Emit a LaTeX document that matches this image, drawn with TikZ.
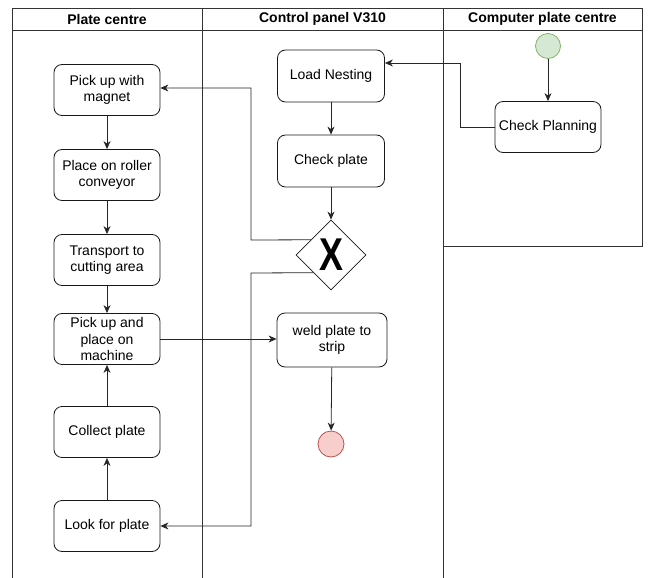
\documentclass[tikz,border=0pt]{standalone}
\usepackage{fontspec}
\setmainfont{Liberation Sans}
\usetikzlibrary{arrows.meta,shapes.geometric,calc}
\definecolor{startfill}{HTML}{D5E8D4}
\definecolor{startline}{HTML}{82B366}
\definecolor{stopfill}{HTML}{F8CECC}
\definecolor{stopline}{HTML}{B85450}

\begin{document}
\begin{tikzpicture}[x=1pt,y=-1pt,
  lane/.style={draw=black!80, line width=0.8pt},
  act/.style={draw=black!90, line width=0.8pt, rounded corners=8pt,
    minimum width=106pt, minimum height=51pt, align=center,
    font=\fontsize{14}{16.5}\selectfont, inner sep=2pt},
  flow/.style={draw=black!85, line width=0.8pt,
    -{Stealth[length=8pt,width=7pt,inset=2.5pt]}},
  hdr/.style={font=\bfseries\fontsize{14}{17}\selectfont}
]
\useasboundingbox (0,0) rectangle (648,578);

% swimlane frame
\draw[lane] (12,578) -- (12,8) -- (642,8) -- (642,246) -- (443,246);
\draw[lane] (12,30) -- (642,30);
\draw[lane] (202,8) -- (202,578);
\draw[lane] (443,8) -- (443,578);

% lane titles
\node[hdr] (h1) at (107,19) {Plate centre};
\node[hdr] (h2) at (322.5,19) {Control panel V310};
\node[hdr] (h3) at (542.5,19) {Computer plate centre};

% plate centre activities
\node[act] (mag) at (107,90) {Pick up with\\magnet};
\node[act] (roller) at (107,175) {Place on roller\\conveyor};
\node[act] (transport) at (107,260) {Transport to\\cutting area};
\node[act] (place) at (107,339) {Pick up and\\place on\\machine};
\node[act] (collect) at (107,432) {Collect plate};
\node[act] (look) at (107,526) {Look for plate};

% control panel activities
\node[act, minimum width=107pt, minimum height=52pt] (load) at (331,76) {Load Nesting};
\node[act, minimum width=107pt, minimum height=52pt] (check) at (331,161) {Check plate};
\node[diamond, draw=black!90, line width=0.8pt, minimum width=70pt,
  minimum height=70pt, inner sep=0pt,
  font=\bfseries\fontsize{46}{46}\selectfont] (dia) at (331,255) {\scalebox{0.78}[1]{X}};
\node[act, minimum width=110pt, minimum height=54pt] (weld) at (332,340) {weld plate to\\strip};
\node[circle, draw=stopline, fill=stopfill, line width=0.8pt,
  minimum size=26pt, inner sep=0pt] (stop) at (331,444) {};

% computer plate centre
\node[circle, draw=startline, fill=startfill, line width=0.8pt,
  minimum size=25pt, inner sep=0pt] (start) at (548,46) {};
\node[act] (plan) at (548,127) {Check Planning};

% connectors
\draw[flow] (start) -- (plan);
\draw[flow] (plan.west) -- ++(-34,0) |- ([yshift=13pt]load.east);
\draw[flow] (load) -- (check);
\draw[flow] (check) -- (dia);
\coordinate (dup) at ($(dia.west)!0.43!(dia.north)$);
\coordinate (ddn) at ($(dia.west)!0.5!(dia.south)$);
\draw[flow] (dup) -- (251,240) |- ([yshift=2pt]mag.east);
\draw[flow] (ddn) -- (251,273) |- (look.east);
\draw[flow] (mag) -- (roller);
\draw[flow] (roller) -- (transport);
\draw[flow] (transport) -- (place);
\draw[flow] (look) -- (collect);
\draw[flow] (collect) -- (place);
\draw[flow] (place.east) -- (weld.west |- place.east);
\draw[flow] (weld) -- (stop);
\end{tikzpicture}
\end{document}
